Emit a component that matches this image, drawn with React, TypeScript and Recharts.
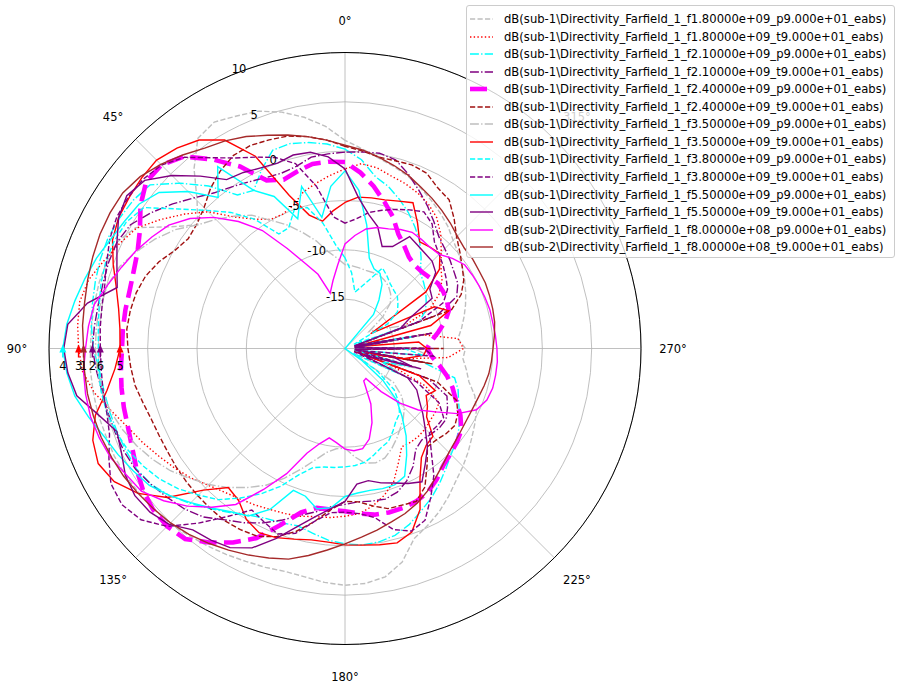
import { RadarChart, Radar, PolarGrid, PolarAngleAxis, PolarRadiusAxis } from "recharts"

// angle (deg, counter-clockwise from north) of every sample
const ANGLES = [
  0, 5, 10, 15, 20, 25, 30, 35, 40, 45, 50, 55, 60, 65, 70, 75, 80, 85,
  90, 95, 100, 105, 110, 115, 120, 125, 130, 135, 140, 145, 150, 155, 160, 165, 170, 175,
  180, 185, 190, 195, 200, 205, 210, 215, 220, 225, 230, 235, 240, 245, 250, 255, 260, 265,
  270, 275, 280, 285, 290, 295, 300, 305, 310, 315, 320, 325, 330, 335, 340, 345, 350, 355,
]

const R_TICKS = [-20, -15, -10, -5, 0, 5, 10]
const ANGLE_LABELS = [0, 45, 90, 135, 180, 225, 270, 315]

// directivity in dB
const F18_P = [1.1, 2.6, 3.8, 4.8, 5.6, 6.0, 6.5, 6.0, 3.8, 1.2, -0.5, 1.5, 4.5, 5.5, 5.7, 5.8, 5.8, 5.8,
  5.8, 5.9, 5.9, 5.9, 5.8, 5.8, 5.7, 5.5, 5.3, 5.1, 4.7, 4.4, 4.1, 3.8, 3.6, 3.4, 3.5, 3.8,
  4.0, 3.9, 3.5, 2.4, 0.5, -0.2, -0.9, -1.7, -2.5, -3.1, -3.7, -4.3, -4.8, -5.3, -6.0, -7.0, -7.5, -8.0,
  -7.8, -8.5, -8.0, -7.5, -7.0, -6.5, -6.0, -5.5, -5.0, -4.5, -3.8, -3.2, -2.6, -2.0, -1.4, -0.9, -0.4, 0.3]
const F18_T = [-1.8, -2.4, -3.0, -3.6, -4.6, -5.0, -4.9, -4.0, -2.6, -0.4, 1.2, 2.8, 4.4, 5.2, 6.0, 6.9, 7.3, 7.2,
  7.0, 6.7, 5.8, 4.5, 3.4, 2.6, 1.8, 1.1, 0.4, -0.4, -1.0, -1.4, -1.7, -2.0, -2.2, -2.4, -2.7, -2.8,
  -3.0, -3.2, -3.8, -4.6, -5.6, -7.2, -8.5, -8.4, -8.4, -8.5, -8.7, -8.8, -9.0, -11.0, -15.0, -19.0, -14.0, -9.5,
  -8.0, -8.5, -12.0, -19.0, -14.0, -10.5, -9.0, -8.0, -7.3, -6.2, -4.9, -3.8, -3.1, -2.6, -2.2, -1.9, -1.4, -1.2]
const F21_P = [0.2, 0.8, 1.2, 1.5, 1.4, 0.0, -1.5, -1.0, 1.5, 3.7, 5.8, 6.2, 6.4, 6.5, 6.4, 6.2, 6.0, 5.8,
  5.5, 5.0, 4.8, 4.7, 4.6, 4.5, 4.4, 4.0, 3.2, 2.2, 1.2, 0.3, -0.5, -1.0, -1.2, -1.4, -1.0, -0.5,
  -0.2, 0.0, -0.1, -0.4, -1.0, -1.8, -2.5, -3.3, -4.1, -4.8, -5.3, -5.9, -6.6, -7.3, -7.8, -8.5, -12.0, -19.0,
  -12.0, -19.0, -13.0, -19.0, -12.0, -11.0, -10.5, -10.0, -9.6, -9.2, -8.0, -6.8, -5.8, -4.8, -3.9, -3.0, -2.3, -0.8]
const F21_T = [-0.1, -0.2, -0.3, -0.9, -1.1, -0.9, -0.5, 0.0, 0.6, 1.6, 2.8, 4.0, 5.1, 5.5, 5.5, 5.4, 5.4, 5.5,
  5.6, 5.3, 5.0, 4.9, 4.8, 4.7, 4.5, 4.0, 3.5, 3.0, 2.3, 1.2, 0.4, -0.5, -1.5, -2.5, -3.2, -3.9,
  -4.2, -4.4, -4.3, -4.2, -4.5, -5.2, -6.2, -7.5, -7.9, -7.7, -7.5, -7.5, -8.0, -8.6, -11.0, -19.0, -12.0, -19.0,
  -11.0, -19.0, -12.0, -19.0, -10.0, -7.5, -6.8, -6.5, -6.1, -5.7, -5.2, -4.3, -3.3, -2.3, -1.2, -0.2, 0.1, 0.0]
const F24_P = [-1.1, -1.0, -1.0, -1.4, -1.8, -1.2, 1.3, 3.4, 5.4, 6.3, 6.3, 5.3, 4.0, 3.2, 2.8, 2.6, 2.6, 2.6,
  2.6, 2.8, 3.0, 3.2, 3.4, 3.8, 4.4, 5.0, 5.4, 5.5, 5.2, 4.0, 2.7, 1.2, -1.0, -2.8, -3.6, -3.6,
  -3.5, -3.2, -2.9, -2.8, -2.8, -2.9, -3.2, -3.8, -4.5, -4.9, -5.2, -5.6, -6.5, -7.6, -8.4, -9.3, -10.3, -11.2,
  -11.7, -11.2, -10.4, -9.5, -8.8, -8.6, -8.5, -8.5, -8.8, -9.0, -9.0, -8.7, -8.0, -7.2, -5.8, -4.6, -3.3, -2.1]
const F24_T = [0.5, 1.2, 1.8, 2.3, 2.5, 2.7, 2.6, 2.0, 1.2, 0.2, -0.4, -0.6, -0.1, 0.8, 1.5, 1.9, 2.1, 2.2,
  2.0, 1.8, 1.6, 1.2, 0.9, 0.8, 0.8, 0.9, 1.0, 1.1, 1.2, 1.3, 1.2, 1.0, 0.3, -0.8, -2.2, -3.6,
  -4.5, -4.4, -3.8, -3.2, -3.1, -2.9, -3.8, -5.5, -7.0, -6.9, -6.6, -6.4, -6.8, -7.5, -10.0, -19.0, -11.0, -19.0,
  -10.0, -19.0, -11.0, -19.0, -8.5, -7.0, -6.1, -5.5, -4.8, -4.0, -2.8, -1.6, -1.2, -0.4, -0.2, -0.3, -0.3, 0.1]
const F35_P = [-11.5, -10.8, -10.0, -8.7, -7.5, -6.2, -5.0, -3.5, -2.5, -1.5, -0.5, 1.0, 2.2, 3.3, 4.3, 4.9, 5.2, 5.3,
  5.3, 5.2, 5.0, 4.6, 4.0, 3.3, 2.5, 1.6, 0.5, -0.5, -1.6, -2.8, -4.0, -5.5, -7.0, -8.3, -9.3, -9.8,
  -9.9, -9.0, -8.2, -8.0, -8.2, -8.8, -9.5, -10.2, -10.8, -11.5, -12.5, -14.0, -19.0, -13.0, -16.0, -12.0, -19.0, -11.5,
  -13.0, -19.0, -12.0, -19.0, -13.0, -15.0, -16.0, -17.0, -15.0, -13.5, -12.8, -12.3, -12.0, -11.8, -11.8, -11.8, -11.7, -11.6]
const F35_T = [-5.2, -6.0, -6.9, -6.0, -3.5, 1.5, 4.4, 5.8, 6.5, 7.0, 6.9, 6.7, 6.5, 6.0, 5.0, 4.0, 3.3, 2.9,
  2.8, 3.4, 4.5, 6.2, 7.2, 7.6, 7.0, 5.6, 3.5, 0.3, -1.6, -1.2, 0.0, 0.6, 0.4, 0.0, -0.3, -0.3,
  -0.1, 0.0, 0.2, 0.4, -0.2, -2.0, -4.8, -6.5, -7.2, -7.4, -9.2, -9.8, -10.5, -9.9, -12.0, -19.0, -14.0, -12.0,
  -11.7, -12.5, -19.0, -11.0, -8.8, -10.0, -17.0, -10.0, -7.5, -6.4, -6.6, -6.8, -5.3, -3.7, -4.1, -4.4, -4.5, -4.6]
const F38_P = [-10.8, -9.5, -7.1, -5.2, -5.0, -6.5, -6.6, -4.0, -2.0, -0.2, 2.0, 4.9, 5.6, 5.8, 5.8, 5.6, 5.3, 5.1,
  5.0, 5.1, 5.1, 5.0, 4.7, 4.3, 3.7, 3.0, 2.1, 1.0, 0.0, -1.5, -3.0, -4.6, -6.4, -7.5, -7.8, -7.9,
  -8.0, -8.1, -8.3, -8.8, -9.3, -9.6, -10.3, -11.0, -11.4, -12.3, -13.5, -16.0, -19.0, -14.0, -16.0, -13.0, -19.0, -12.0,
  -14.0, -19.0, -13.0, -19.0, -14.0, -19.0, -15.0, -13.5, -13.0, -12.5, -12.3, -12.0, -11.5, -11.0, -12.5, -13.5, -14.2, -12.3]
const F38_T = [-7.3, -6.6, -3.3, -0.6, 0.6, 1.4, 2.3, 3.6, 5.3, 6.3, 6.7, 6.8, 6.7, 6.3, 5.7, 5.2, 5.0, 4.9,
  4.8, 4.8, 4.9, 5.0, 5.4, 6.4, 7.4, 7.6, 7.0, 5.5, 3.1, 0.8, -1.1, -0.6, 0.0, -0.6, -2.2, -3.3,
  -3.4, -3.2, -2.6, -1.0, -0.3, -0.8, -2.6, -4.3, -6.4, -7.9, -7.8, -7.8, -9.0, -12.0, -19.0, -12.0, -19.0, -11.0,
  -12.0, -19.0, -11.0, -19.0, -12.0, -9.0, -8.0, -7.5, -7.0, -6.5, -5.9, -4.6, -4.0, -4.5, -5.0, -5.5, -6.0, -6.8]
const F55_P = [-2.0, -3.5, -6.5, -3.0, -6.0, -3.0, -1.5, 2.5, 0.0, 2.5, 4.6, 5.5, 5.8, 6.2, 6.8, 7.3, 7.8, 8.3,
  8.6, 8.3, 7.8, 6.9, 6.0, 5.4, 4.8, 4.2, 3.2, 2.1, 1.1, 0.2, -0.4, -2.0, -4.7, -4.5, -3.5, -3.8,
  -5.0, -5.3, -5.4, -5.3, -5.3, -5.7, -7.5, -9.2, -11.0, -12.6, -15.0, -18.0, -20, -20, -20, -20, -20, -20,
  -20, -20, -20, -20, -20, -20, -20, -20, -20, -20, -15.5, -14.0, -12.5, -11.6, -11.4, -10.5, -7.3, -3.9]
const F55_T = [-1.8, -0.5, 0.2, 0.3, 0.0, 0.2, 0.6, 0.9, 2.8, 4.8, 6.5, 7.0, 6.5, 5.5, 4.6, 3.9, 6.5, 8.2,
  8.5, 8.2, 7.6, 5.9, 4.6, 5.0, 5.7, 6.0, 5.8, 5.2, 4.0, 3.7, 3.3, 2.3, 0.5, -1.3, -2.7, -3.7,
  -4.5, -6.2, -6.4, -5.9, -5.5, -4.9, -4.4, -5.8, -7.0, -8.5, -9.7, -10.8, -11.6, -13.0, -18.0, -13.0, -15.0, -19.0,
  -14.0, -19.0, -15.0, -19.0, -14.0, -12.8, -9.8, -9.5, -8.0, -7.5, -7.4, -7.2, -6.9, -8.6, -9.0, -7.2, -6.2, -4.6]
const F08_P = [-9.4, -11.5, -13.0, -14.2, -12.0, -10.5, -8.3, -5.4, -3.2, -1.2, 0.5, 1.8, 2.6, 3.4, 4.1, 4.9, 5.8, 6.1,
  6.3, 6.6, 6.7, 6.7, 6.5, 6.2, 5.6, 5.2, 4.0, 2.6, 1.0, -0.7, -3.5, -6.0, -8.7, -10.0, -10.8, -10.4,
  -9.8, -9.6, -9.7, -10.5, -12.0, -13.8, -16.2, -16.3, -14.3, -12.2, -10.3, -8.8, -6.8, -5.3, -4.7, -4.5, -4.5, -4.5,
  -4.6, -4.7, -4.8, -4.8, -4.9, -5.0, -5.1, -5.2, -5.8, -6.5, -6.6, -6.5, -6.4, -6.7, -7.1, -7.3, -7.7, -8.5]
const F08_T = [0.6, 1.2, 1.8, 2.4, 3.0, 3.7, 4.3, 4.8, 5.6, 6.4, 7.1, 7.5, 7.5, 7.4, 7.2, 7.0, 6.8, 6.7,
  6.5, 6.5, 6.5, 6.4, 6.3, 6.1, 5.9, 5.6, 5.3, 5.0, 4.6, 4.1, 3.6, 3.1, 2.6, 2.1, 1.3, 0.5,
  -0.2, -0.8, -1.3, -1.8, -2.2, -2.7, -3.3, -4.0, -4.6, -5.1, -5.4, -5.6, -5.7, -5.7, -5.6, -5.4, -5.2, -5.1,
  -5.0, -4.8, -4.6, -4.5, -4.4, -4.3, -4.3, -4.2, -4.2, -3.9, -3.4, -2.9, -2.4, -1.9, -1.3, -0.8, -0.3, 0.2]

const DASHED = "5.2 2.3"
const DOTTED = "1.4 2.3"
const DASHDOT = "8.9 2.2 1.4 2.2"

const SERIES = [
  { key: "s1", sub: 1, f: "1.80000e+09", c: "p", color: "#bfbfbf", dash: DASHED, w: 1.4, values: F18_P },
  { key: "s2", sub: 1, f: "1.80000e+09", c: "t", color: "#ff0000", dash: DOTTED, w: 1.4, values: F18_T, marker: "3" },
  { key: "s3", sub: 1, f: "2.10000e+09", c: "p", color: "#00ffff", dash: DASHDOT, w: 1.4, values: F21_P },
  { key: "s4", sub: 1, f: "2.10000e+09", c: "t", color: "#800080", dash: DASHDOT, w: 1.4, values: F21_T, marker: "2" },
  { key: "s5", sub: 1, f: "2.40000e+09", c: "p", color: "#ff00ff", dash: "17 7.4", w: 4.6, values: F24_P },
  { key: "s6", sub: 1, f: "2.40000e+09", c: "t", color: "#a01010", dash: DASHED, w: 1.4, values: F24_T },
  { key: "s7", sub: 1, f: "3.50000e+09", c: "p", color: "#bfbfbf", dash: DASHDOT, w: 1.4, values: F35_P },
  { key: "s8", sub: 1, f: "3.50000e+09", c: "t", color: "#ff0000", dash: undefined, w: 1.4, values: F35_T, marker: "5" },
  { key: "s9", sub: 1, f: "3.80000e+09", c: "p", color: "#00ffff", dash: DASHED, w: 1.4, values: F38_P },
  { key: "s10", sub: 1, f: "3.80000e+09", c: "t", color: "#800080", dash: DASHED, w: 1.4, values: F38_T, marker: "6" },
  { key: "s11", sub: 1, f: "5.50000e+09", c: "p", color: "#00ffff", dash: undefined, w: 1.4, values: F55_P, marker: "4" },
  { key: "s12", sub: 1, f: "5.50000e+09", c: "t", color: "#800080", dash: undefined, w: 1.4, values: F55_T },
  { key: "s13", sub: 2, f: "8.00000e+08", c: "p", color: "#ff00ff", dash: undefined, w: 1.4, values: F08_P },
  { key: "s14", sub: 2, f: "8.00000e+08", c: "t", color: "#a52a2a", dash: undefined, w: 1.4, values: F08_T, marker: "1" },
]

const seriesName = (s: (typeof SERIES)[number]) =>
  `dB(sub-${s.sub}\\Directivity_Farfield_1_f${s.f}_${s.c}9.000e+01_eabs)`

const data = ANGLES.map((angle, i) => {
  const row: Record<string, number> = { angle }
  SERIES.forEach((s) => {
    row[s.key] = s.values[i]
  })
  return row
})

const FONT = "'DejaVu Sans', sans-serif"
const FS = 11.5
const MARK_INDEX = ANGLES.indexOf(90)

const angleTick = (props: any) => {
  const v = props.payload?.value
  if (!ANGLE_LABELS.includes(v)) return <g />
  return (
    <text x={props.x} y={props.y} textAnchor="middle" dominantBaseline="central" fontSize={FS} fontFamily={FONT} fill="#000">
      {`${v}°`}
    </text>
  )
}

const radiusTick = (props: any) => {
  const v = props.payload?.value
  if (v === -20) return <g />
  return (
    <text x={props.x} y={props.y - 2} textAnchor="start" fontSize={FS} fontFamily={FONT} fill="#000">
      {v}
    </text>
  )
}

const makeMarker = (color: string, label: string) => (props: any) => {
  if (props.index !== MARK_INDEX) return <g key={`m-${props.index}`} />
  const { cx, cy } = props
  return (
    <g key={`m-${props.index}`}>
      <line x1={cx} y1={cy} x2={cx} y2={cy + 9} stroke={color} strokeWidth={1.5} />
      <polygon points={`${cx},${cy - 4} ${cx - 3.5},${cy + 4} ${cx + 3.5},${cy + 4}`} fill={color} />
      <text x={cx} y={cy + 21} textAnchor="middle" fontSize={FS} fontFamily={FONT} fill="#000">
        {label}
      </text>
    </g>
  )
}

function LegendBox() {
  return (
    <div
      style={{
        position: "absolute",
        left: 466,
        top: 5,
        width: 429,
        height: 253,
        boxSizing: "border-box",
        background: "rgba(255,255,255,0.8)",
        border: "1px solid #cccccc",
        borderRadius: 3,
        fontFamily: FONT,
        fontSize: 11.6,
        color: "#000",
      }}
    >
      {SERIES.map((s, i) => (
        <div key={s.key} style={{ position: "absolute", left: 0, top: 13 + 17.55 * i - 9, height: 18, display: "flex", alignItems: "center", whiteSpace: "nowrap" }}>
          <svg width={37} height={18} style={{ display: "block" }}>
            <line x1={3} y1={9} x2={26} y2={9} stroke={s.color} strokeWidth={s.w} strokeDasharray={s.dash} />
          </svg>
          <span>{seriesName(s)}</span>
        </div>
      ))}
    </div>
  )
}

export default function App() {
  return (
    <div style={{ position: "absolute", left: 0, top: 0, width: 900, height: 688, background: "#fff" }}>
      <RadarChart
        width={900}
        height={688}
        data={data}
        cx={345}
        cy={348.5}
        innerRadius={0}
        outerRadius={296}
        startAngle={90}
        endAngle={450}
        margin={{ top: 0, right: 0, bottom: 0, left: 0 }}
      >
        <PolarGrid gridType="circle" polarAngles={ANGLE_LABELS} stroke="#b0b0b0" strokeWidth={0.8} />
        <PolarAngleAxis
          dataKey="angle"
          type="number"
          domain={[0, 360]}
          ticks={ANGLE_LABELS}
          axisLineType="circle"
          axisLine={{ stroke: "#000", strokeWidth: 1 }}
          tickLine={false}
          tickSize={32}
          tick={angleTick}
        />
        <PolarRadiusAxis
          type="number"
          domain={[-20, 10]}
          ticks={R_TICKS}
          tickCount={7}
          angle={112.5}
          axisLine={false}
          tickLine={false}
          tick={radiusTick}
          allowDataOverflow
        />
        {SERIES.map((s) => (
          <Radar
            key={s.key}
            dataKey={s.key}
            name={seriesName(s)}
            stroke={s.color}
            strokeWidth={s.w}
            strokeDasharray={s.dash}
            fill="none"
            fillOpacity={0}
            dot={s.marker ? makeMarker(s.color, s.marker) : false}
            isAnimationActive={false}
          />
        ))}
      </RadarChart>
      <LegendBox />
    </div>
  )
}
